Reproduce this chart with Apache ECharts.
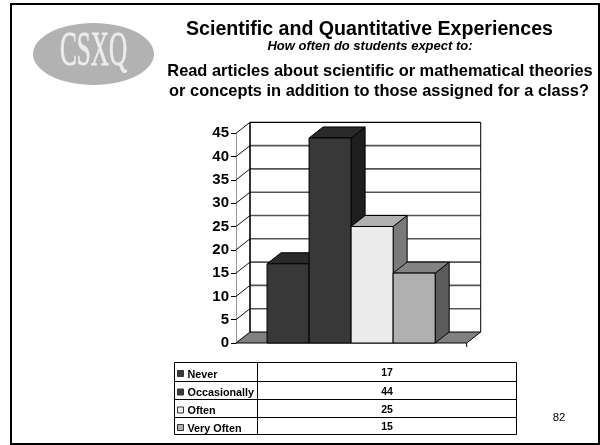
<!DOCTYPE html>
<html><head><meta charset="utf-8">
<style>html,body{margin:0;padding:0;background:#fff}#c{width:600px;height:445px;filter:blur(.35px)}</style>
<script src="https://cdn.jsdelivr.net/npm/echarts@6/dist/echarts.min.js"></script>
</head><body><div id="c"></div>
<script>
const categories=['Never','Occasionally','Often','Very Often'];
const values=[17,44,25,15];
const yTicks=[0,5,10,15,20,25,30,35,40,45];
const frontColors=['#383838','#383838','#ececec','#b0b0b0'];
const topColors=['#2a2a2a','#2a2a2a','#b0b0b0','#848484'];
const sideColors=['#1e1e1e','#1e1e1e','#7a7a7a','#5c5c5c'];
const titleText='Scientific and Quantitative Experiences';
const subtitleText='How often do students expect to:';
const questionLines=['Read articles about scientific or mathematical theories','or concepts in addition to those assigned for a class?'];
const pageNumber='82';

const DX=14,DY=-11,FONT='"Liberation Sans",Arial,sans-serif';
const chart=echarts.init(document.getElementById('c'),null,{renderer:'canvas'});
function poly(points,fill,stroke,lw){return{type:'polygon',shape:{points},style:{fill,stroke:stroke||'#000',lineWidth:lw==null?1:lw}};}
function line(x1,y1,x2,y2,stroke,lw){return{type:'line',shape:{x1,y1,x2,y2},style:{stroke,lineWidth:lw}};}

const tX0=174.5,tX1=257.5,tX2=516.5,rowYs=[362.5,381.5,399.5,417.5,434.5];
const g=[];
g.push({type:'rect',shape:{x:11,y:4,width:588,height:440},style:{fill:'none',stroke:'#000',lineWidth:2},z:1});
g.push({type:'ellipse',shape:{cx:93.5,cy:54,rx:60.5,ry:31},style:{fill:'#b2b2b2'},z:1});
g.push({type:'text',x:93.5,y:52,scaleX:.525,style:{text:'CSXQ',font:'48px "Liberation Serif",serif',fill:'#ececec',stroke:'#ececec',lineWidth:.8,align:'center',verticalAlign:'middle'},z:2});
function txt(t,x,y,font,align){return{type:'text',x,y,style:{text:t,font,fill:'#000',align:align||'center',verticalAlign:'middle'},z:3};}
g.push(txt(titleText,369.5,29.5,'bold 19.6px '+FONT));
g.push(txt(subtitleText,370,46.5,'italic bold 13px '+FONT));
g.push(txt(questionLines[0],380,71.5,'bold 16.4px '+FONT));
g.push(txt(questionLines[1],379,91.5,'bold 16.4px '+FONT));
g.push(txt(pageNumber,559,418,'11.4px '+FONT));
g.push({type:'rect',shape:{x:tX0,y:rowYs[0],width:tX2-tX0,height:rowYs[4]-rowYs[0]},style:{fill:'#fff',stroke:'#000',lineWidth:1},z:2});
g.push({type:'line',shape:{x1:tX1,y1:rowYs[0],x2:tX1,y2:rowYs[4]},style:{stroke:'#000',lineWidth:1},z:3});
categories.forEach((c,i)=>{
  if(i>0)g.push({type:'line',shape:{x1:tX0,y1:rowYs[i],x2:tX2,y2:rowYs[i]},style:{stroke:'#000',lineWidth:1},z:3});
  const cy=(rowYs[i]+rowYs[i+1])/2;
  g.push({type:'rect',shape:{x:177.5,y:cy-1.5,width:6,height:6},style:{fill:frontColors[i],stroke:'#333',lineWidth:1},z:3});
  g.push(txt(c,187.5,cy+3,'bold 10.8px '+FONT,'left'));
  g.push(txt(String(values[i]),387,cy+1.5,'bold 10.5px '+FONT));
});

chart.setOption({
  animation:false,
  grid:{left:236,right:133.3,top:133.3,bottom:102,containLabel:false},
  xAxis:{type:'value',min:-1.238,max:4.25,show:false},
  yAxis:{type:'value',min:0,max:45,interval:5,
    axisLine:{show:true,onZero:false,lineStyle:{color:'#999',width:1}},
    axisTick:{show:true,length:5,lineStyle:{color:'#000'}},
    axisLabel:{color:'#000',fontFamily:'"Liberation Sans",Arial,sans-serif',fontWeight:'bold',fontSize:15,margin:7},
    splitLine:{show:false}},
  graphic:g,
  series:[
    {type:'custom',silent:true,z:1,coordinateSystem:'cartesian2d',data:yTicks.map(v=>[0,v]),
     renderItem(p,api){
       const v=api.value(1),xs=[-1.238,4.25];
       const a=api.coord([xs[0],v]),b=api.coord([xs[1],v]);
       const ch=[];
       if(v===0){
         ch.push(poly([[a[0],a[1]],[a[0]+DX,a[1]+DY],[b[0]+DX,b[1]+DY],[b[0],b[1]]],'#808080','#000',1));
         ch.push(line(b[0],b[1],b[0],b[1]+4,'#000',1));
       }else{
         ch.push(line(a[0]+DX,a[1]+DY,b[0]+DX,b[1]+DY,v===45?'#000':'#555',v===45?1.2:1.6));
         ch.push(line(a[0],a[1],a[0]+DX,a[1]+DY,'#111',1));
       }
       if(v===45){
         const o=api.coord([xs[0],0]),q=api.coord([xs[1],0]);
         ch.push(line(o[0]+DX,o[1]+DY,a[0]+DX,a[1]+DY,'#000',1.6));
         ch.push(line(q[0]+DX,q[1]+DY,b[0]+DX,b[1]+DY,'#000',1));
       }
       return{type:'group',children:ch};
     }},
    {type:'custom',silent:true,z:2,coordinateSystem:'cartesian2d',data:values.map((v,i)=>[i,v]),
     renderItem(p,api){
       const i=api.value(0),v=api.value(1);
       const tl=api.coord([i-.5,v]),br=api.coord([i+.5,0]);
       const x0=tl[0],x1=br[0],yT=tl[1],yB=br[1];
       return{type:'group',children:[
         poly([[x1,yT],[x1+DX,yT+DY],[x1+DX,yB+DY],[x1,yB]],sideColors[i]),
         poly([[x0,yT],[x0+DX,yT+DY],[x1+DX,yT+DY],[x1,yT]],topColors[i]),
         poly([[x0,yT],[x1,yT],[x1,yB],[x0,yB]],frontColors[i])
       ]};
     }}
  ]
});
</script></body></html>
